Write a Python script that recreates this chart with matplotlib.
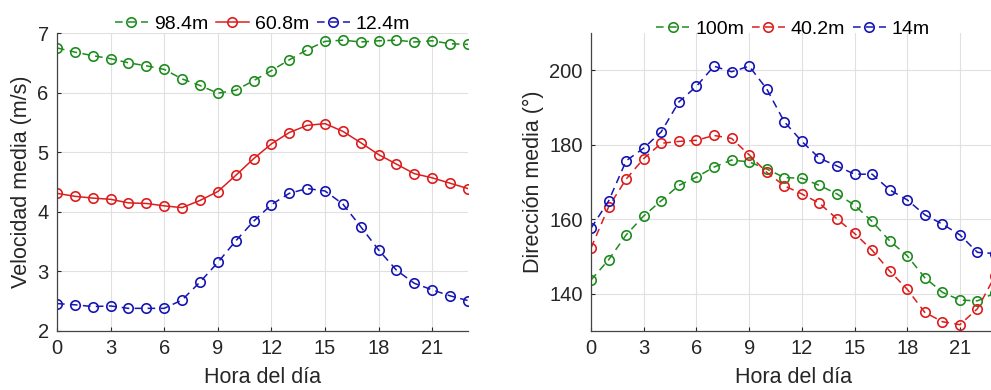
import numpy as np, matplotlib
matplotlib.use('Agg'); import matplotlib.pyplot as plt

plt.rcParams['font.family'] = ['Liberation Sans', 'DejaVu Sans']

hours = list(range(24))

# velocidad media (m/s)
vel_labels = ['98.4m', '60.8m', '12.4m']
vel_98 = [6.75, 6.68, 6.62, 6.57, 6.50, 6.45, 6.39, 6.23, 6.12, 5.99, 6.04, 6.20,
          6.37, 6.55, 6.72, 6.86, 6.88, 6.85, 6.87, 6.88, 6.85, 6.87, 6.82, 6.81]
vel_61 = [4.31, 4.26, 4.23, 4.21, 4.15, 4.14, 4.10, 4.07, 4.19, 4.34, 4.61, 4.89,
          5.14, 5.33, 5.45, 5.48, 5.35, 5.16, 4.96, 4.80, 4.64, 4.57, 4.48, 4.39]
vel_12 = [2.46, 2.44, 2.41, 2.42, 2.38, 2.38, 2.38, 2.52, 2.82, 3.15, 3.51, 3.84,
          4.12, 4.31, 4.39, 4.35, 4.13, 3.75, 3.36, 3.02, 2.80, 2.69, 2.59, 2.51]

# direccion media (grados)
dir_labels = ['100m', '40.2m', '14m']
dir_100 = [143.7, 149.1, 155.8, 160.9, 165.0, 169.1, 171.3, 174.0, 175.9, 175.4, 173.5, 171.2,
           171.0, 169.1, 166.8, 163.8, 159.4, 154.2, 150.2, 144.3, 140.4, 138.3, 138.1, 140.2]
dir_40 = [152.3, 163.3, 170.8, 176.3, 180.4, 180.9, 181.2, 182.5, 181.7, 177.3, 172.6, 169.0,
          166.8, 164.3, 160.1, 156.2, 151.7, 146.1, 141.2, 135.0, 132.5, 131.7, 136.0, 144.8]
dir_14 = [157.6, 164.9, 175.7, 179.1, 183.5, 191.5, 195.7, 201.1, 199.6, 201.1, 195.0, 186.2,
          180.9, 176.4, 174.3, 172.1, 172.1, 167.9, 165.2, 161.2, 158.7, 155.8, 151.1, 150.8]

green, red, blue = '#1f8c1f', '#dc1e1e', '#1616b2'
dash = (0, (5, 3.5))
txt = '#262626'

fig = plt.figure(figsize=(9.91, 3.9), dpi=100)
ax1 = fig.add_axes([0.0575, 0.1513, 0.4147, 0.764])
ax2 = fig.add_axes([0.5964, 0.1513, 0.4077, 0.764])

kw = dict(marker='o', markersize=6.8, markerfacecolor='none', markeredgewidth=1.2, linewidth=1.1)
ax1.plot(hours, vel_98, color=green, linestyle=dash, label=vel_labels[0], **kw)
ax1.plot(hours, vel_61, color=red, linestyle='-', label=vel_labels[1], **kw)
ax1.plot(hours, vel_12, color=blue, linestyle=dash, label=vel_labels[2], **kw)
ax1.set_ylim(2, 7); ax1.set_yticks([2, 3, 4, 5, 6, 7])
ax1.set_ylabel('Velocidad media (m/s)', fontsize=15.5, color=txt, labelpad=4)

ax2.plot(hours, dir_100, color=green, linestyle=dash, label=dir_labels[0], **kw)
ax2.plot(hours, dir_40, color=red, linestyle=dash, label=dir_labels[1], **kw)
ax2.plot(hours, dir_14, color=blue, linestyle=dash, label=dir_labels[2], **kw)
ax2.set_ylim(130, 210); ax2.set_yticks([140, 160, 180, 200])
ax2.set_ylabel('Dirección media (°)', fontsize=15.5, color=txt, labelpad=4)

for ax, ly in ((ax1, 1.0), (ax2, 0.985)):
    ax.set_xlim(0, 23)
    ax.set_xticks(range(0, 24, 3))
    ax.set_xlabel('Hora del día', fontsize=15.5, color=txt, labelpad=6)
    ax.grid(True, color='#e0e0e0', linewidth=0.8)
    ax.set_axisbelow(True)
    for s in ('top', 'right'):
        ax.spines[s].set_visible(False)
    for s in ('left', 'bottom'):
        ax.spines[s].set_color('#444444'); ax.spines[s].set_linewidth(0.9)
    ax.tick_params(direction='in', length=3, labelsize=14.5, colors=txt, pad=6)
    ax.legend(loc='lower center', bbox_to_anchor=(0.5, ly), ncol=3, frameon=False,
              fontsize=14, handlelength=1.7, handletextpad=0.3, columnspacing=0.4,
              borderaxespad=0, borderpad=0)

plt.savefig('out.png', dpi=100)
print("saved")
